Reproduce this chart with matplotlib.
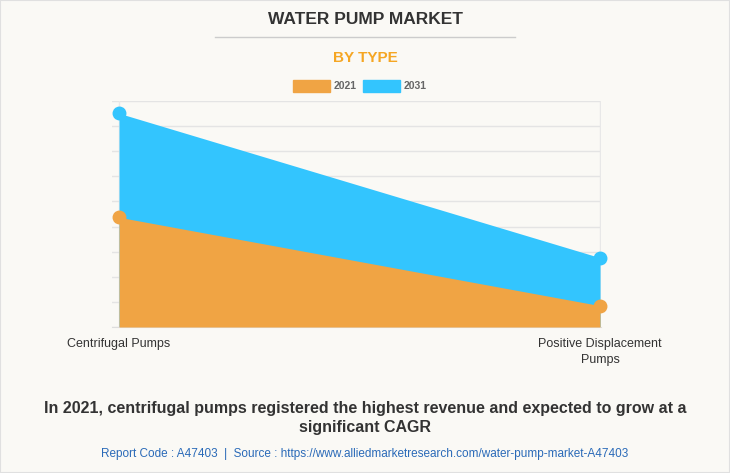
import numpy as np
import matplotlib.pyplot as plt
from matplotlib.patches import Rectangle
from matplotlib.lines import Line2D

plt.rcParams['font.family'] = ['Liberation Sans', 'DejaVu Sans']

# data (grid step = 10)
categories = ["Centrifugal Pumps", "Positive Displacement\nPumps"]
values_2021 = [43.7, 8.5]
values_2031 = [85.1, 27.6]

c2021 = "#f0a444"
c2031 = "#33c5fe"
bg = "#faf9f5"

fig = plt.figure(figsize=(7.3, 4.73), dpi=100, facecolor=bg)
ax = fig.add_axes([112 / 730, 1 - 327 / 473, 489 / 730, 226 / 473])
ax.set_facecolor(bg)

x = np.arange(len(categories))
ax.fill_between(x, 0, values_2031, color=c2031, lw=0, zorder=2)
ax.fill_between(x, 0, values_2021, color=c2021, lw=0, zorder=3)
ax.plot(x, values_2031, 'o', color=c2031, ms=9, zorder=4, clip_on=False)
ax.plot(x, values_2021, 'o', color=c2021, ms=9, zorder=5, clip_on=False)

ax.set_xlim(-0.0146, 1.002)
ax.set_ylim(0, 90)
ax.set_yticks(np.arange(0, 91, 10))
ax.yaxis.grid(True, color="#e4e4e4", lw=1)
ax.set_axisbelow(True)
ax.set_yticklabels([])
ax.tick_params(axis='y', length=0)
ax.set_xticks(x)
ax.set_xticklabels(categories, fontsize=9, color="#333333", linespacing=1.45)
ax.tick_params(axis='x', length=0, pad=8)
for s in ['top', 'right', 'left']:
    ax.spines[s].set_visible(False)
ax.spines['bottom'].set_color("#dddddd")
for xv in x:
    ax.axvline(xv, color="#e8e8e8", lw=1, zorder=1)

# headings
fig.text(0.5, 1 - 20 / 473, "WATER PUMP MARKET", ha='center', va='center',
         fontsize=12.5, fontweight='bold', color="#333333")
fig.add_artist(Line2D([215 / 730, 515 / 730], [1 - 37 / 473, 1 - 37 / 473],
                      color="#cccccc", lw=1))
fig.text(0.5, 1 - 58 / 473, "BY TYPE", ha='center', va='center',
         fontsize=11, fontweight='bold', color="#f5a623")

# legend
for px, col, lab in [(293, c2021, "2021"), (363, c2031, "2031")]:
    fig.add_artist(Rectangle((px / 730, 1 - 92 / 473), 37 / 730, 12 / 473,
                             transform=fig.transFigure, color=col))
    fig.text((px + 41) / 730, 1 - 86 / 473, lab, ha='left', va='center',
             fontsize=7.5, fontweight='bold', color="#666666")

# caption
fig.text(0.5, 1 - 418 / 473,
         "In 2021, centrifugal pumps registered the highest revenue and expected to grow at a\nsignificant CAGR",
         ha='center', va='center', fontsize=11.5, fontweight='bold',
         color="#333333", linespacing=1.3)
fig.text(0.5, 1 - 454 / 473,
         "Report Code : A47403  |  Source : https://www.alliedmarketresearch.com/water-pump-market-A47403",
         ha='center', va='center', fontsize=8.5, color="#2a6ab8")

fig.add_artist(Rectangle((0, 0), 1, 1, transform=fig.transFigure,
                         fill=False, edgecolor="#e0e0e0", lw=1.5))

fig.savefig("out.png", dpi=100, facecolor=bg)
